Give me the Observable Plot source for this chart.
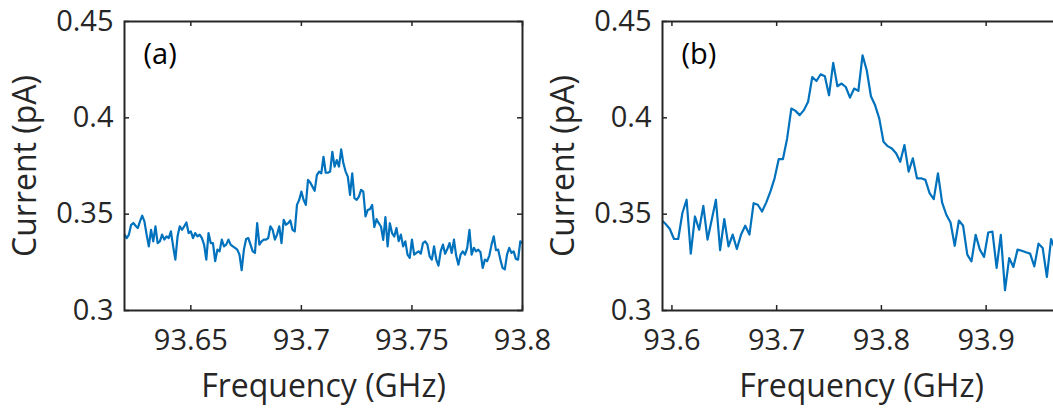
<!DOCTYPE html>
<html><head><meta charset="utf-8">
<script src="https://cdn.jsdelivr.net/npm/d3@7"></script>
<script src="https://cdn.jsdelivr.net/npm/@observablehq/plot@0.6"></script>
<style>
html,body{margin:0;padding:0;background:#fff;}
#wrap{display:flex;width:1053px;height:410px;overflow:hidden;}
#pa{width:538px;flex:none;position:relative;z-index:2;}
#pb{width:515px;flex:none;overflow:hidden;position:relative;z-index:1;}
svg{display:block;max-width:none !important;width:538px !important;height:410px !important;}
</style></head><body><div id="wrap"><div id="pa"></div><div id="pb"></div></div>
<script>
// Panel (a): sweep start/step (GHz) and measured current (pA)
const startA = 93.62, stepA = 0.001;
const currentA = [
0.3394,0.3376,0.3394,0.3445,0.3454,0.3440,0.3428,0.3463,0.3492,0.3463,
0.3394,0.3333,0.3419,0.3359,0.3437,0.3350,0.3359,0.3394,0.3368,0.3385,
0.3376,0.3411,0.3333,0.3264,0.3385,0.3437,0.3419,0.3437,0.3457,0.3402,
0.3411,0.3376,0.3402,0.3385,0.3394,0.3376,0.3342,0.3264,0.3402,0.3350,
0.3350,0.3256,0.3316,0.3307,0.3368,0.3333,0.3342,0.3368,0.3342,0.3333,
0.3325,0.3316,0.3290,0.3209,0.3316,0.3371,0.3376,0.3342,0.3307,0.3299,
0.3454,0.3342,0.3359,0.3368,0.3368,0.3376,0.3437,0.3419,0.3368,0.3394,
0.3437,0.3350,0.3471,0.3445,0.3453,0.3467,0.3419,0.3410,0.3548,0.3574,
0.3617,0.3574,0.3548,0.3678,0.3664,0.3643,0.3621,0.3703,0.3721,0.3712,
0.3798,0.3715,0.3715,0.3721,0.3824,0.3747,0.3781,0.3747,0.3836,0.3764,
0.3721,0.3695,0.3600,0.3712,0.3583,0.3574,0.3591,0.3626,0.3617,0.3488,
0.3522,0.3526,0.3548,0.3433,0.3474,0.3453,0.3436,0.3367,0.3485,0.3333,
0.3453,0.3402,0.3384,0.3428,0.3360,0.3394,0.3333,0.3359,0.3290,0.3273,
0.3368,0.3290,0.3299,0.3307,0.3295,0.3350,0.3359,0.3342,0.3281,0.3264,
0.3333,0.3264,0.3233,0.3307,0.3342,0.3295,0.3319,0.3350,0.3299,0.3368,
0.3285,0.3238,0.3290,0.3307,0.3290,0.3325,0.3419,0.3290,0.3325,0.3307,
0.3316,0.3302,0.3221,0.3264,0.3256,0.3285,0.3342,0.3385,0.3313,0.3316,
0.3264,0.3221,0.3213,0.3290,0.3325,0.3299,0.3307,0.3268,0.3264,0.3359,
0.3350];

// Panel (b)
const startB = 93.59, stepB = 0.004;
const currentB = [
0.3470,0.3449,0.3423,0.3371,0.3371,0.3506,0.3575,0.3295,0.3488,0.3419,
0.3543,0.3368,0.3471,0.3575,0.3313,0.3475,0.3333,0.3394,0.3319,0.3394,
0.3440,0.3394,0.3557,0.3549,0.3514,0.3560,0.3617,0.3686,0.3786,0.3786,
0.3893,0.4048,0.4036,0.4014,0.4040,0.4083,0.4212,0.4191,0.4226,0.4216,
0.4117,0.4285,0.4164,0.4178,0.4160,0.4105,0.4152,0.4140,0.4324,0.4247,
0.4112,0.4065,0.3996,0.3876,0.3853,0.3841,0.3816,0.3772,0.3859,0.3721,
0.3790,0.3686,0.3686,0.3678,0.3609,0.3578,0.3712,0.3560,0.3497,0.3457,
0.3336,0.3467,0.3440,0.3290,0.3255,0.3393,0.3316,0.3278,0.3405,0.3410,
0.3221,0.3393,0.3105,0.3272,0.3226,0.3316,0.3310,0.3302,0.3295,0.3229,
0.3347,0.3324,0.3174,0.3371,0.3316,0.3330];

const xTicksA = [93.65, 93.7, 93.75, 93.8];
const xTicksB = [93.6, 93.7, 93.8, 93.9];
const yTicks = [0.3, 0.35, 0.4, 0.45];
const xDomainA = [93.62, 93.8];
const xDomainB = [93.591, 93.971];
const yDomain = [0.3, 0.45];
const xLabel = "Frequency (GHz)";
const yLabel = "Current (pA)";

const freqA = currentA.map((_, i) => +(startA + i * stepA).toFixed(4));
const freqB = currentB.map((_, i) => +(startB + i * stepB).toFixed(4));

function panel(freq, current, domain, ticks, tag) {
  const W = 538, H = 410, mt = 21, mb = 100, ml = 124, mr = 16;
  const fh = H - mt - mb, fw = W - ml - mr;
  const data = freq.map((f, i) => ({f, c: current[i]}));
  const ax = "#262626";
  return Plot.plot({
    width: W, height: H,
    marginTop: mt, marginBottom: mb, marginLeft: ml, marginRight: mr,
    style: {fontFamily: "'Open Sans', sans-serif", fontSize: "29px", color: ax, background: "transparent", overflow: "visible"},
    x: {domain, ticks, tickFormat: d => String(d), tickSize: 0, tickPadding: 19, label: null},
    y: {domain: yDomain, ticks: yTicks, tickFormat: d => String(d), tickSize: 0, tickPadding: 11, label: null},
    marks: [
      Plot.line(data, {x: "f", y: "c", stroke: "#0072BD", strokeWidth: 2.2, clip: true}),
      Plot.tickX(ticks, {x: d => d, insetTop: fh - 5, stroke: ax, strokeWidth: 1.5}),
      Plot.tickX(ticks, {x: d => d, insetBottom: fh - 5, stroke: ax, strokeWidth: 1.5}),
      Plot.tickY(yTicks, {y: d => d, insetRight: fw - 5, stroke: ax, strokeWidth: 1.5}),
      Plot.tickY(yTicks, {y: d => d, insetLeft: fw - 5, stroke: ax, strokeWidth: 1.5}),
      Plot.frame({stroke: ax, strokeWidth: 2}),
      Plot.text([tag], {frameAnchor: "top-left", dx: 19, dy: 22, textAnchor: "start", lineAnchor: "top", fontSize: 29, fill: "#000"}),
      Plot.text([xLabel], {frameAnchor: "bottom", dy: 64, textAnchor: "middle", lineAnchor: "top", fontSize: 32, fill: ax}),
      Plot.text([yLabel], {frameAnchor: "left", dx: -111, rotate: -90, textAnchor: "middle", lineAnchor: "top", fontSize: 32, fill: ax})
    ]
  });
}

document.getElementById("pa").append(panel(freqA, currentA, xDomainA, xTicksA, "(a)"));
document.getElementById("pb").append(panel(freqB, currentB, xDomainB, xTicksB, "(b)"));
</script>
</body></html>
